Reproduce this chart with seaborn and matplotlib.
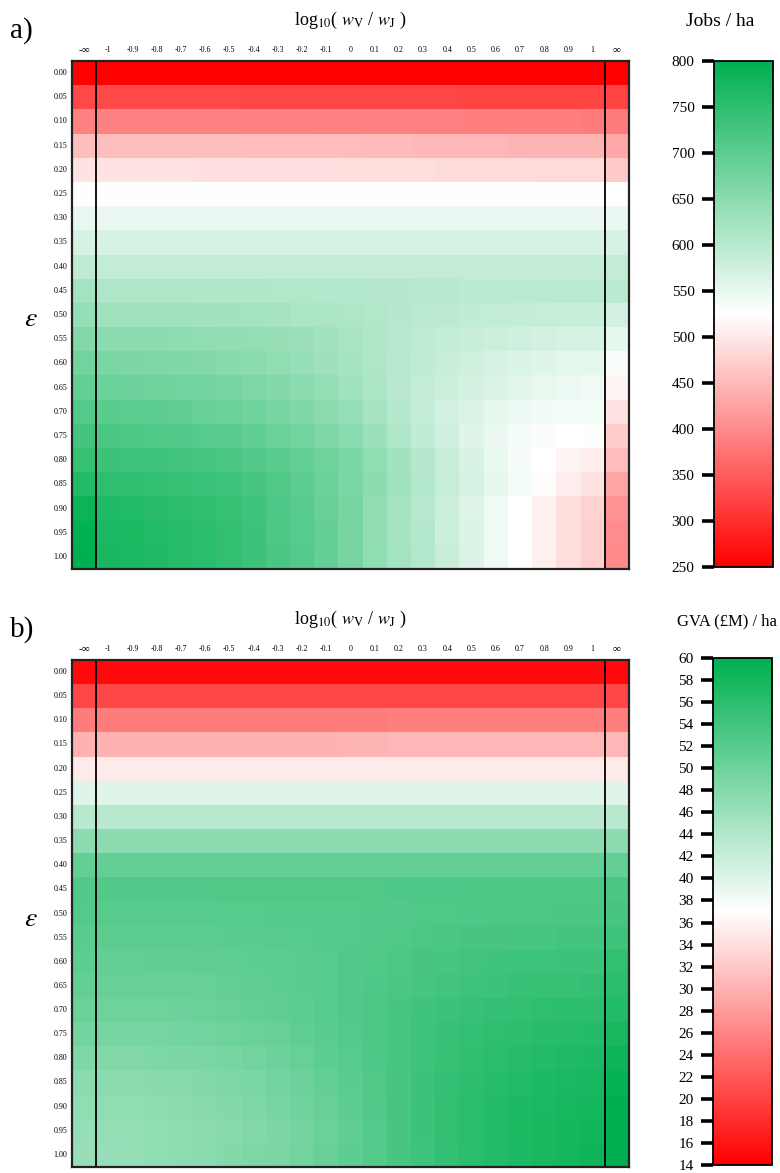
import matplotlib
matplotlib.use("Agg")
import matplotlib.pyplot as plt
from matplotlib.colors import LinearSegmentedColormap
import numpy as np
import pandas as pd
import seaborn as sns

# axis labels
eps_labels = ['0.00', '0.05', '0.10', '0.15', '0.20', '0.25', '0.30', '0.35', '0.40', '0.45', '0.50',
              '0.55', '0.60', '0.65', '0.70', '0.75', '0.80', '0.85', '0.90', '0.95', '1.00']
ratio_labels = ['-∞', '-1', '-0.9', '-0.8', '-0.7', '-0.6', '-0.5', '-0.4', '-0.3', '-0.2', '-0.1', '0',
                '0.1', '0.2', '0.3', '0.4', '0.5', '0.6', '0.7', '0.8', '0.9', '1', '∞']

# a) jobs per hectare, one row per epsilon
jobs_per_ha = [
    [250, 250, 250, 250, 250, 250, 250, 250, 250, 250, 250, 250, 250, 250, 250, 250, 250, 250, 250, 250, 250, 250, 250],
    [328, 328, 328, 328, 328, 328, 328, 327, 327, 327, 327, 327, 326, 326, 326, 326, 325, 325, 325, 324, 324, 324, 322],
    [391, 391, 391, 391, 391, 390, 390, 390, 390, 390, 389, 389, 389, 388, 388, 388, 387, 387, 386, 386, 386, 385, 383],
    [456, 456, 456, 456, 455, 455, 455, 454, 454, 453, 453, 452, 451, 450, 449, 448, 447, 446, 445, 445, 444, 444, 430],
    [493, 493, 493, 493, 493, 492, 492, 492, 491, 491, 491, 490, 490, 489, 489, 488, 488, 487, 487, 486, 486, 485, 467],
    [523, 523, 523, 523, 523, 523, 523, 523, 523, 523, 523, 523, 523, 523, 523, 523, 523, 523, 523, 523, 523, 523, 525],
    [548, 547, 547, 547, 547, 547, 547, 547, 547, 547, 547, 547, 547, 547, 547, 547, 547, 547, 547, 547, 547, 547, 547],
    [570, 569, 569, 569, 569, 569, 569, 569, 569, 569, 568, 568, 568, 568, 568, 568, 568, 568, 568, 568, 568, 568, 568],
    [595, 591, 591, 591, 591, 591, 591, 590, 590, 590, 590, 590, 590, 590, 590, 590, 590, 590, 590, 590, 590, 590, 590],
    [622, 612, 612, 611, 611, 610, 610, 609, 608, 607, 606, 605, 604, 603, 602, 601, 600, 600, 599, 599, 599, 599, 600],
    [638, 628, 627, 627, 626, 625, 624, 622, 620, 617, 614, 611, 607, 603, 599, 596, 593, 590, 588, 586, 585, 584, 574],
    [660, 650, 649, 648, 647, 645, 643, 640, 636, 631, 625, 618, 610, 602, 595, 589, 584, 580, 576, 573, 570, 568, 552],
    [676, 667, 666, 664, 662, 659, 656, 651, 645, 638, 630, 621, 611, 601, 592, 584, 577, 570, 564, 559, 555, 552, 533],
    [692, 684, 682, 680, 677, 674, 670, 664, 657, 649, 640, 628, 615, 602, 590, 580, 571, 563, 556, 550, 546, 542, 514],
    [708, 702, 700, 697, 694, 690, 685, 678, 670, 661, 650, 637, 621, 604, 588, 574, 562, 552, 545, 540, 537, 536, 493],
    [725, 719, 717, 714, 711, 707, 702, 695, 686, 676, 664, 650, 632, 612, 593, 576, 560, 547, 537, 530, 526, 523, 471],
    [741, 735, 733, 730, 727, 723, 719, 711, 702, 692, 680, 665, 645, 625, 604, 585, 566, 550, 535, 525, 514, 506, 454],
    [762, 750, 748, 745, 741, 737, 732, 722, 712, 700, 685, 668, 648, 627, 606, 586, 568, 552, 536, 522, 505, 494, 428],
    [785, 765, 762, 757, 752, 747, 740, 730, 715, 704, 688, 669, 642, 620, 601, 580, 560, 544, 525, 509, 489, 476, 407],
    [796, 772, 769, 763, 758, 753, 745, 734, 718, 707, 691, 670, 643, 621, 605, 583, 562, 543, 525, 509, 489, 474, 402],
    [800, 773, 770, 764, 759, 754, 746, 735, 719, 708, 692, 671, 644, 622, 606, 584, 563, 543, 525, 509, 489, 474, 400],
]

# b) GVA (GBP million) per hectare
gva_per_ha = [
    [14.9, 14.9, 14.9, 14.9, 14.9, 14.9, 14.9, 14.9, 14.9, 14.9, 14.9, 14.9, 14.9, 14.9, 14.9, 14.9, 14.9, 14.9, 14.9, 14.9, 14.9, 14.9, 14.9],
    [20.3, 20.3, 20.3, 20.3, 20.3, 20.3, 20.3, 20.3, 20.3, 20.3, 20.3, 20.3, 20.3, 20.3, 20.4, 20.4, 20.4, 20.4, 20.4, 20.4, 20.4, 20.4, 20.4],
    [25.3, 25.3, 25.3, 25.3, 25.3, 25.3, 25.3, 25.3, 25.3, 25.3, 25.3, 25.3, 25.3, 25.4, 25.4, 25.4, 25.4, 25.4, 25.4, 25.4, 25.4, 25.4, 25.4],
    [30.0, 30.0, 30.0, 30.0, 30.0, 30.0, 30.0, 30.0, 30.1, 30.1, 30.1, 30.2, 30.3, 30.4, 30.4, 30.4, 30.4, 30.4, 30.4, 30.4, 30.4, 30.4, 30.4],
    [35.2, 35.2, 35.2, 35.2, 35.2, 35.2, 35.2, 35.2, 35.2, 35.2, 35.2, 35.2, 35.2, 35.2, 35.2, 35.2, 35.2, 35.2, 35.2, 35.2, 35.2, 35.2, 35.2],
    [39.7, 39.7, 39.7, 39.7, 39.7, 39.7, 39.7, 39.7, 39.7, 39.7, 39.7, 39.7, 39.7, 39.7, 39.7, 39.7, 39.7, 39.7, 39.7, 39.7, 39.7, 39.7, 39.7],
    [43.3, 43.3, 43.3, 43.3, 43.3, 43.3, 43.3, 43.3, 43.3, 43.3, 43.3, 43.3, 43.3, 43.3, 43.3, 43.3, 43.3, 43.3, 43.3, 43.3, 43.3, 43.3, 43.3],
    [47.4, 47.4, 47.4, 47.4, 47.4, 47.4, 47.4, 47.4, 47.4, 47.4, 47.4, 47.4, 47.4, 47.4, 47.4, 47.4, 47.4, 47.4, 47.4, 47.4, 47.4, 47.4, 47.4],
    [51.0, 51.0, 51.0, 51.0, 51.0, 51.0, 51.0, 51.0, 51.0, 51.0, 51.0, 51.0, 51.0, 51.0, 51.0, 51.0, 51.0, 51.0, 51.0, 51.0, 51.0, 51.0, 51.0],
    [52.6, 52.6, 52.6, 52.6, 52.6, 52.6, 52.7, 52.7, 52.7, 52.7, 52.8, 52.8, 52.8, 52.9, 52.9, 52.9, 53.0, 53.0, 53.0, 53.1, 53.1, 53.1, 53.2],
    [52.3, 52.1, 52.1, 52.1, 52.1, 52.2, 52.2, 52.2, 52.3, 52.3, 52.4, 52.4, 52.5, 52.6, 52.7, 52.8, 52.9, 53.0, 53.0, 53.1, 53.2, 53.2, 53.4],
    [51.9, 51.6, 51.6, 51.6, 51.7, 51.7, 51.8, 51.9, 52.0, 52.1, 52.3, 52.4, 52.6, 52.8, 53.0, 53.2, 53.4, 53.5, 53.6, 53.7, 53.8, 53.8, 54.1],
    [51.4, 51.0, 51.0, 51.1, 51.1, 51.2, 51.3, 51.5, 51.7, 51.9, 52.2, 52.5, 52.8, 53.1, 53.4, 53.6, 53.9, 54.1, 54.3, 54.4, 54.5, 54.5, 55.5],
    [51.0, 50.5, 50.5, 50.6, 50.7, 50.8, 51.0, 51.2, 51.5, 51.8, 52.1, 52.5, 52.9, 53.3, 53.7, 54.0, 54.3, 54.6, 54.8, 55.0, 55.1, 55.2, 56.2],
    [50.3, 50.0, 50.0, 50.1, 50.2, 50.4, 50.6, 50.9, 51.3, 51.7, 52.1, 52.6, 53.1, 53.6, 54.1, 54.5, 54.9, 55.2, 55.5, 55.7, 55.9, 56.0, 56.8],
    [49.4, 49.2, 49.2, 49.3, 49.5, 49.7, 50.0, 50.4, 50.8, 51.3, 51.8, 52.4, 53.1, 53.7, 54.3, 54.8, 55.3, 55.7, 56.0, 56.3, 56.5, 56.6, 57.7],
    [48.5, 48.3, 48.3, 48.5, 48.7, 49.0, 49.3, 49.7, 50.2, 50.8, 51.4, 52.1, 52.9, 53.7, 54.4, 55.0, 55.6, 56.1, 56.5, 56.8, 57.1, 57.3, 58.6],
    [47.6, 47.5, 47.5, 47.7, 47.9, 48.2, 48.6, 49.0, 49.6, 50.2, 50.9, 51.8, 52.7, 53.6, 54.5, 55.2, 55.9, 56.5, 56.9, 57.3, 57.6, 57.8, 59.3],
    [46.9, 47.0, 47.0, 47.2, 47.4, 47.7, 48.1, 48.5, 49.1, 49.8, 50.6, 51.5, 52.5, 53.5, 54.5, 55.4, 56.1, 56.7, 57.2, 57.6, 58.0, 58.2, 60.0],
    [46.5, 46.6, 46.7, 46.9, 47.1, 47.4, 47.8, 48.2, 48.8, 49.5, 50.4, 51.3, 52.4, 53.5, 54.5, 55.4, 56.2, 56.9, 57.4, 57.8, 58.2, 58.5, 60.0],
    [46.3, 46.5, 46.7, 46.9, 47.2, 47.6, 48.0, 48.5, 49.0, 49.7, 50.5, 51.4, 52.4, 53.4, 54.4, 55.3, 56.1, 56.8, 57.3, 57.7, 58.2, 58.6, 60.0],
]

jobs_ticks = [250, 300, 350, 400, 450, 500, 550, 600, 650, 700, 750, 800]
gva_ticks = [14, 16, 18, 20, 22, 24, 26, 28, 30, 32, 34, 36, 38, 40, 42, 44, 46, 48, 50, 52, 54, 56, 58, 60]

sns.set_style('white')
plt.rcParams['font.family'] = ['Liberation Serif', 'DejaVu Serif']
plt.rcParams['mathtext.fontset'] = 'stix'
plt.rcParams['text.color'] = 'black'
plt.rcParams['xtick.color'] = 'black'
plt.rcParams['ytick.color'] = 'black'
plt.rcParams['xtick.labelcolor'] = 'black'
plt.rcParams['ytick.labelcolor'] = 'black'

cmap = LinearSegmentedColormap.from_list('rwg', ['#FF0000', '#FFFFFF', '#00B050'])

W, H = 780, 1173
fig = plt.figure(figsize=(W / 100, H / 100), dpi=100)


def px(x0, y0, x1, y1):
    # pixel box (top-left origin) -> figure fraction rect
    return [x0 / W, 1 - y1 / H, (x1 - x0) / W, (y1 - y0) / H]


panels = [
    dict(data=jobs_per_ha, vmin=250, vmax=800, ticks=jobs_ticks, unit='Jobs / ha', letter='a)',
         hm=px(72, 61, 629, 569), cb=px(714, 61, 773, 567), top=61, unit_x=720, unit_fs=14),
    dict(data=gva_per_ha, vmin=14, vmax=60, ticks=gva_ticks, unit='GVA (£M) / ha', letter='b)',
         hm=px(72, 660, 629, 1167), cb=px(713, 658, 772, 1165), top=660, unit_x=727, unit_fs=12),
]

for p in panels:
    ax = fig.add_axes(p['hm'])
    cax = fig.add_axes(p['cb'])
    df = pd.DataFrame(p['data'], index=eps_labels, columns=ratio_labels)
    sns.heatmap(df, ax=ax, cmap=cmap, vmin=p['vmin'], vmax=p['vmax'], cbar_ax=cax,
                xticklabels=True, yticklabels=True, linewidths=0)

    # heatmap frame and separators for the infinite columns
    for sp in ax.spines.values():
        sp.set_visible(True)
        sp.set_linewidth(1.6)
        sp.set_color('#222222')
    ax.axvline(1, color='black', lw=1.3)
    ax.axvline(22, color='black', lw=1.3)

    ax.xaxis.tick_top()
    ax.tick_params(axis='x', length=0, pad=5, labelsize=5.8, rotation=0)
    ax.tick_params(axis='y', length=0, pad=3.5, labelsize=5.8, rotation=0)
    for lab in ax.get_xticklabels():
        if '∞' in lab.get_text():
            lab.set_fontsize(8)
    ax.set_xlabel('')
    ax.set_ylabel('')

    # colourbar
    cbar = ax.collections[0].colorbar
    cbar.set_ticks(p['ticks'])
    cbar.ax.yaxis.set_ticks_position('left')
    cbar.ax.tick_params(length=9, width=2.6, labelsize=11, pad=5, color='black', labelcolor='black')
    cbar.outline.set_edgecolor('black')
    cbar.outline.set_linewidth(1.3)

    top = p['top']
    fig.text(350 / W, 1 - (top - 41) / H, r'log$_{10}$( $w_{\mathrm{V}}$ / $w_{\mathrm{J}}$ )',
             ha='center', va='center', fontsize=13)
    fig.text(p['unit_x'] / W, 1 - (top - 39) / H, p['unit'], ha='center', va='center', fontsize=p['unit_fs'])
    fig.text(10 / W, 1 - (top - 30) / H, p['letter'], ha='left', va='center', fontsize=21)
    fig.text(31 / W, 1 - (top + 259) / H, r'$\varepsilon$', ha='center', va='center', fontsize=20)

fig.savefig('out.png', dpi=100)
plt.close(fig)
